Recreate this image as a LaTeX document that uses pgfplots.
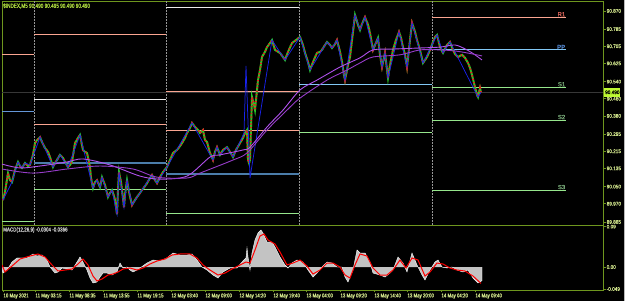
\documentclass[border=0pt]{standalone}
\usepackage{pgfplots}
\pgfplotsset{compat=1.18}
\usepackage{fontspec}
\setmainfont{Liberation Sans}
\newfontfamily\tfont[FakeStretch=0.78,FakeBold=0.6]{Liberation Sans}
\newfontfamily\pfont[FakeStretch=0.9,FakeBold=0.6]{Liberation Sans}
\newfontfamily\lfont[FakeBold=0.6]{Liberation Sans}
\definecolor{frame}{RGB}{110,150,30}
\definecolor{lab}{RGB}{210,230,140}
\definecolor{salm}{RGB}{250,165,145}
\definecolor{stblue}{RGB}{75,125,170}
\definecolor{skyb}{RGB}{130,200,245}
\definecolor{cornb}{RGB}{100,150,215}
\definecolor{lgreen}{RGB}{150,230,140}
\definecolor{whl}{RGB}{235,235,235}
\definecolor{candg}{RGB}{40,200,40}
\definecolor{candr}{RGB}{225,30,30}
\definecolor{zz}{RGB}{25,35,235}
\definecolor{maA}{RGB}{175,80,235}
\definecolor{maB}{RGB}{150,60,200}
\definecolor{hist}{RGB}{195,195,195}
\definecolor{sep}{RGB}{150,150,150}
\definecolor{curp}{RGB}{55,55,55}
\definecolor{boxg}{RGB}{190,250,50}
\definecolor{rlab}{RGB}{220,100,90}
\definecolor{plab}{RGB}{80,130,200}
\definecolor{slab}{RGB}{120,170,120}
\begin{document}
\begin{tikzpicture}
\fill[black] (0,0) rectangle (625bp,301bp);
\fill[gray!55] (623.5bp,0) rectangle (625bp,301bp);
% ---------------- main price panel ----------------
\begin{axis}[
  at={(2bp,76bp)}, anchor=south west, scale only axis,
  width=601bp, height=224bp,
  xmin=2, xmax=603, ymin=89.8707, ymax=90.9163,
  clip=false, scaled y ticks=false,
  axis line style={frame, line width=0.9bp},
  xtick=\empty,
  extra x ticks={34,166,299,432},
  extra x tick labels={},
  extra x tick style={grid=major, major tick length=0pt,
     major grid style={sep, line width=0.6bp, dash pattern=on 1.5bp off 1.5bp}},
  ytick={89.885,89.970,90.050,90.135,90.215,90.295,90.380,90.460,90.540,90.625,90.705,90.785,90.870},
  yticklabels={89.885,89.970,90.050,90.135,90.215,90.295,90.380,90.460,90.540,90.625,90.705,90.785,90.870},
  ytick pos=right, yticklabel pos=right,
  tick align=outside, major tick length=2.5bp,
  tick style={frame, line width=0.6bp},
  yticklabel style={font=\pfont\fontsize{5.2}{6}\selectfont, text=lab, inner sep=1bp},
]
% current price line
\addplot[curp, line width=1.6bp] coordinates {(2,90.490) (603,90.490)};
% pivot levels, day 0
\addplot[salm, line width=0.9bp] coordinates {(2,90.669) (34,90.669)};
\addplot[cornb, line width=0.9bp] coordinates {(2,90.402) (34,90.402)};
\addplot[lgreen, line width=0.9bp] coordinates {(2,89.885) (34,89.885)};
% day 1
\addplot[salm, line width=0.9bp] coordinates {(34,90.762) (166,90.762)};
\addplot[whl, line width=0.9bp] coordinates {(34,90.459) (166,90.459)};
\addplot[salm, line width=0.9bp] coordinates {(34,90.342) (166,90.342)};
\addplot[stblue, line width=1.4bp] coordinates {(34,90.160) (166,90.160)};
\addplot[lgreen, line width=0.9bp] coordinates {(34,90.038) (166,90.038)};
% day 2
\addplot[whl, line width=0.9bp] coordinates {(166,90.884) (299,90.884)};
\addplot[salm, line width=0.9bp] coordinates {(166,90.496) (299,90.496)};
\addplot[salm, line width=0.9bp] coordinates {(166,90.314) (299,90.314)};
\addplot[stblue, line width=1.4bp] coordinates {(166,90.108) (299,90.108)};
\addplot[lgreen, line width=0.9bp] coordinates {(166,89.926) (299,89.926)};
% day 3
\addplot[skyb, line width=0.9bp] coordinates {(299,90.528) (432,90.528)};
\addplot[lgreen, line width=0.9bp] coordinates {(299,90.305) (432,90.305)};
% day 4
\addplot[salm, line width=0.9bp] coordinates {(432,90.841) (566,90.841)};
\addplot[skyb, line width=0.9bp] coordinates {(432,90.688) (566,90.688)};
\addplot[lgreen, line width=0.9bp] coordinates {(432,90.514) (566,90.514)};
\addplot[lgreen, line width=0.9bp] coordinates {(432,90.361) (566,90.361)};
\addplot[lgreen, line width=0.9bp] coordinates {(432,90.034) (566,90.034)};
% price (closes)
\pgfplotsset{pricepath/.style={}}
\addplot[candg, line width=1.9bp] coordinates {
(3,89.987)(5,90.025)(8,90.113)(10,90.080)(12,90.071)(15,90.127)(18,90.165)(20,90.146)(22,90.137)(25,90.160)
(28,90.146)(30,90.151)(33,90.198)(35,90.253)(37,90.267)(40,90.281)(42,90.258)(45,90.230)(48,90.212)(50,90.188)
(53,90.141)(55,90.160)(57,90.174)(60,90.198)(63,90.184)(65,90.165)(68,90.141)(70,90.151)(72,90.165)(75,90.253)
(78,90.277)(80,90.291)(82,90.244)(83,90.221)(85,90.212)(87,90.207)(90,90.141)(91,90.090)(93,90.043)(95,90.071)
(97,90.080)(100,90.047)(102,90.094)(105,90.057)(108,90.001)(110,90.020)(112,90.034)(114,90.006)(115,89.987)(117,89.921)
(118,90.034)(119,90.118)(121,90.071)(122,90.034)(124,89.954)(125,90.011)(127,90.080)(129,90.025)(132,89.964)(135,89.987)
(137,90.001)(140,90.020)(142,90.034)(145,90.052)(147,90.066)(150,90.090)(152,90.104)(155,90.080)(157,90.066)(160,90.094)
(163,90.118)(167,90.141)(170,90.174)(173,90.207)(177,90.221)(180,90.239)(182,90.253)(185,90.277)(187,90.300)(190,90.324)
(192,90.347)(195,90.328)(198,90.314)(200,90.300)(203,90.314)(205,90.267)(207,90.258)(210,90.207)(213,90.174)(215,90.212)
(217,90.234)(220,90.198)(223,90.221)(227,90.234)(230,90.212)(233,90.188)(236,90.221)(240,90.253)(243,90.277)(245,90.300)
(247,90.314)(248,90.174)(249,90.160)(250,90.174)(252,90.468)(254,90.431)(255,90.407)(258,90.547)(260,90.594)(262,90.655)
(265,90.679)(267,90.701)(270,90.720)(272,90.734)(275,90.688)(278,90.679)(280,90.674)(283,90.655)(285,90.641)(288,90.679)
(292,90.720)(296,90.734)(300,90.748)(303,90.711)(305,90.674)(308,90.632)(310,90.594)(313,90.632)(317,90.674)(320,90.679)
(322,90.688)(325,90.711)(327,90.725)(330,90.711)(332,90.697)(335,90.715)(337,90.734)(340,90.679)(342,90.632)(344,90.571)
(345,90.547)(348,90.618)(350,90.655)(352,90.734)(355,90.851)(358,90.805)(360,90.781)(362,90.809)(365,90.841)(368,90.805)
(370,90.767)(373,90.688)(375,90.711)(378,90.744)(380,90.665)(382,90.608)(385,90.674)(388,90.557)(390,90.618)(393,90.688)
(396,90.734)(399,90.772)(401,90.744)(403,90.701)(405,90.665)(407,90.608)(410,90.734)(412,90.814)(415,90.772)(417,90.734)
(420,90.688)(423,90.627)(427,90.655)(430,90.688)(433,90.725)(435,90.748)(437,90.758)(440,90.701)(443,90.674)(447,90.711)
(450,90.725)(453,90.688)(455,90.669)(458,90.655)(462,90.665)(465,90.651)(468,90.627)(470,90.604)(472,90.571)(475,90.514)
(477,90.478)(478,90.468)(480,90.510)(481,90.490)};
\addplot[candr, line width=1.9bp, dash pattern=on 1.3bp off 2.2bp] coordinates {
(3,89.987)(5,90.025)(8,90.113)(10,90.080)(12,90.071)(15,90.127)(18,90.165)(20,90.146)(22,90.137)(25,90.160)
(28,90.146)(30,90.151)(33,90.198)(35,90.253)(37,90.267)(40,90.281)(42,90.258)(45,90.230)(48,90.212)(50,90.188)
(53,90.141)(55,90.160)(57,90.174)(60,90.198)(63,90.184)(65,90.165)(68,90.141)(70,90.151)(72,90.165)(75,90.253)
(78,90.277)(80,90.291)(82,90.244)(83,90.221)(85,90.212)(87,90.207)(90,90.141)(91,90.090)(93,90.043)(95,90.071)
(97,90.080)(100,90.047)(102,90.094)(105,90.057)(108,90.001)(110,90.020)(112,90.034)(114,90.006)(115,89.987)(117,89.921)
(118,90.034)(119,90.118)(121,90.071)(122,90.034)(124,89.954)(125,90.011)(127,90.080)(129,90.025)(132,89.964)(135,89.987)
(137,90.001)(140,90.020)(142,90.034)(145,90.052)(147,90.066)(150,90.090)(152,90.104)(155,90.080)(157,90.066)(160,90.094)
(163,90.118)(167,90.141)(170,90.174)(173,90.207)(177,90.221)(180,90.239)(182,90.253)(185,90.277)(187,90.300)(190,90.324)
(192,90.347)(195,90.328)(198,90.314)(200,90.300)(203,90.314)(205,90.267)(207,90.258)(210,90.207)(213,90.174)(215,90.212)
(217,90.234)(220,90.198)(223,90.221)(227,90.234)(230,90.212)(233,90.188)(236,90.221)(240,90.253)(243,90.277)(245,90.300)
(247,90.314)(248,90.174)(249,90.160)(250,90.174)(252,90.468)(254,90.431)(255,90.407)(258,90.547)(260,90.594)(262,90.655)
(265,90.679)(267,90.701)(270,90.720)(272,90.734)(275,90.688)(278,90.679)(280,90.674)(283,90.655)(285,90.641)(288,90.679)
(292,90.720)(296,90.734)(300,90.748)(303,90.711)(305,90.674)(308,90.632)(310,90.594)(313,90.632)(317,90.674)(320,90.679)
(322,90.688)(325,90.711)(327,90.725)(330,90.711)(332,90.697)(335,90.715)(337,90.734)(340,90.679)(342,90.632)(344,90.571)
(345,90.547)(348,90.618)(350,90.655)(352,90.734)(355,90.851)(358,90.805)(360,90.781)(362,90.809)(365,90.841)(368,90.805)
(370,90.767)(373,90.688)(375,90.711)(378,90.744)(380,90.665)(382,90.608)(385,90.674)(388,90.557)(390,90.618)(393,90.688)
(396,90.734)(399,90.772)(401,90.744)(403,90.701)(405,90.665)(407,90.608)(410,90.734)(412,90.814)(415,90.772)(417,90.734)
(420,90.688)(423,90.627)(427,90.655)(430,90.688)(433,90.725)(435,90.748)(437,90.758)(440,90.701)(443,90.674)(447,90.711)
(450,90.725)(453,90.688)(455,90.669)(458,90.655)(462,90.665)(465,90.651)(468,90.627)(470,90.604)(472,90.571)(475,90.514)
(477,90.478)(478,90.468)(480,90.510)(481,90.490)};
% zigzag
\addplot[zz, line width=0.75bp] coordinates {
(3,89.987)(12,90.071)(18,90.165)(22,90.137)(25,90.160)(30,90.151)(40,90.281)(53,90.141)(60,90.198)(68,90.141)
(80,90.291)(93,90.043)(97,90.080)(100,90.047)(102,90.094)(108,90.001)(112,90.034)(117,89.921)(119,90.118)(124,89.954)
(127,90.080)(132,89.964)(152,90.104)(157,90.066)(167,90.141)(192,90.347)(213,90.174)(217,90.234)(220,90.198)(227,90.234)
(233,90.188)(244,90.300)(246,90.613)(250,90.090)(272,90.734)(285,90.641)(300,90.748)(310,90.594)(327,90.725)(332,90.697)
(337,90.734)(345,90.547)(355,90.851)(360,90.781)(365,90.841)(373,90.688)(378,90.744)(382,90.608)(385,90.674)(388,90.557)
(399,90.772)(407,90.608)(412,90.814)(423,90.627)(437,90.758)(443,90.674)(450,90.725)(478,90.468)(481,90.490)};
% moving averages
\addplot[maA, line width=0.9bp, smooth] coordinates {
(2,90.155)(20,90.137)(40,90.146)(67,90.165)(83,90.179)(110,90.151)(140,90.099)(160,90.085)(187,90.099)(210,90.188)
(220,90.198)(243,90.221)(250,90.234)(267,90.328)(283,90.407)(300,90.501)(317,90.547)(340,90.608)(360,90.651)(373,90.688)
(393,90.692)(420,90.697)(440,90.701)(455,90.711)(467,90.688)(475,90.665)(482,90.641)};
\addplot[maB, line width=0.9bp, smooth] coordinates {
(2,90.132)(33,90.113)(67,90.132)(100,90.146)(133,90.132)(157,90.094)(187,90.090)(200,90.113)(233,90.174)(247,90.207)
(267,90.314)(287,90.407)(300,90.463)(327,90.547)(347,90.594)(360,90.627)(373,90.655)(400,90.665)(420,90.688)(440,90.688)
(455,90.683)(467,90.674)(482,90.660)};
% pivot labels
\node[anchor=south east, text=rlab, font=\lfont\fontsize{6}{6}\selectfont, inner sep=0.6bp] at (axis cs:566,90.841) {R1};
\node[anchor=south east, text=plab, font=\lfont\fontsize{6}{6}\selectfont, inner sep=0.6bp] at (axis cs:566,90.688) {PP};
\node[anchor=south east, text=slab, font=\lfont\fontsize{6}{6}\selectfont, inner sep=0.6bp] at (axis cs:566,90.514) {S1};
\node[anchor=south east, text=slab, font=\lfont\fontsize{6}{6}\selectfont, inner sep=0.6bp] at (axis cs:566,90.361) {S2};
\node[anchor=south east, text=slab, font=\lfont\fontsize{6}{6}\selectfont, inner sep=0.6bp] at (axis cs:566,90.034) {S3};
% current price box
\node[anchor=west, fill=boxg, text=black, font=\pfont\fontsize{5.2}{6}\selectfont, inner sep=1bp, minimum height=9bp] at (axis cs:604,90.490) {90.490};
\end{axis}
% ---------------- MACD panel ----------------
\begin{axis}[
  at={(2bp,11bp)}, anchor=south west, scale only axis,
  width=601bp, height=65bp,
  xmin=2, xmax=603, ymin=-0.0512, ymax=0.0936,
  scaled y ticks=false,
  axis line style={frame, line width=0.9bp},
  xtick={3,35,69,103,137,171,205,239,273,306,340,374,407,441,475},
  xticklabels={10 May 2021,11 May 03:15,11 May 08:35,11 May 13:55,11 May 19:15,12 May 03:40,12 May 09:00,12 May 14:20,12 May 19:40,13 May 04:00,13 May 09:20,13 May 14:40,13 May 20:00,14 May 04:20,14 May 09:40},
  xtick pos=left, xticklabel pos=left,
  ytick={-0.049,0,0.09},
  yticklabels={-0.049,0.00,0.09},
  ytick pos=right, yticklabel pos=right,
  tick align=outside, major tick length=2.5bp,
  tick style={frame, line width=0.6bp},
  xticklabel style={font=\tfont\fontsize{5.6}{6}\selectfont, text=lab, anchor=north west, inner sep=0.8bp, xshift=-0.5bp},
  yticklabel style={font=\pfont\fontsize{5.2}{6}\selectfont, text=lab, inner sep=1bp},
]
\addplot[fill=hist, draw=white, line width=0.4bp] coordinates {
(2,0)(2,-0.0067)(3,-0.0134)(7,-0.0067)(12,0.0111)(17,0.0201)(22,0.0201)(27,0.0201)(33,0.0290)(37,0.0245)
(42,0.0267)(47,0.0156)(50,0)(55,-0.0134)(58,-0.0111)(62,-0.0022)(67,-0.0045)(72,-0.0067)(77,0.0111)(80,0.0223)
(83,0.0111)(87,-0.0067)(90,-0.0245)(93,-0.0356)(97,-0.0334)(100,-0.0223)(103,-0.0134)(107,-0.0134)(112,-0.0178)(117,-0.0111)
(120,0.0089)(123,-0.0022)(127,0)(130,-0.0067)(133,-0.0111)(137,-0.0067)(140,-0.0022)(147,0.0089)(153,0.0156)(160,0.0134)
(167,0.0201)(173,0.0312)(180,0.0267)(187,0.0267)(192,0.0290)(197,0.0156)(202,0)(207,-0.0067)(213,-0.0178)(218,-0.0245)
(223,-0.0111)(230,-0.0022)(237,-0.0022)(242,0.0111)(246,0.0201)(247,0.0423)(248,0.0223)(250,-0.0067)(252,0.0312)(255,0.0602)
(258,0.0758)(261,0.0824)(263,0.0758)(267,0.0557)(272,0.0557)(275,0.0446)(280,0.0223)(285,0.0045)(288,-0.0022)(292,0.0089)
(297,0.0156)(303,0.0111)(308,-0.0067)(313,-0.0223)(317,-0.0134)(322,0)(327,0.0111)(332,0.0089)(337,0)(342,0)
(345,-0.0223)(348,-0.0334)(353,-0.0067)(357,0.0379)(360,0.0312)(365,0.0312)(370,0.0111)(373,-0.0134)(380,-0.0178)(385,-0.0223)
(390,-0.0134)(393,-0.0067)(398,0.0223)(403,0.0089)(407,-0.0111)(412,0.0312)(417,0.0045)(422,-0.0178)(425,-0.0290)(430,-0.0067)
(435,0.0111)(438,0.0156)(442,0)(447,-0.0022)(452,0)(457,-0.0067)(463,-0.0111)(468,-0.0067)(473,-0.0245)(478,-0.0356)
(482,-0.0304)(482,0)};
\addplot[red, line width=1bp] coordinates {
(2,0.0045)(5,-0.0111)(12,0.0022)(20,0.0178)(30,0.0245)(38,0.0290)(45,0.0223)(52,0.0045)(58,-0.0089)(65,-0.0067)
(72,-0.0045)(78,0.0067)(83,0.0178)(88,0.0045)(93,-0.0201)(97,-0.0312)(102,-0.0267)(108,-0.0178)(113,-0.0156)(118,-0.0111)
(123,-0.0045)(130,-0.0022)(137,-0.0067)(143,-0.0022)(150,0.0067)(157,0.0134)(165,0.0178)(172,0.0267)(180,0.0290)(190,0.0290)
(197,0.0201)(203,0.0045)(210,-0.0067)(218,-0.0178)(225,-0.0134)(232,-0.0045)(240,0.0045)(246,0.0111)(250,0.0089)(255,0.0379)
(260,0.0691)(264,0.0735)(268,0.0602)(275,0.0512)(280,0.0334)(287,0.0045)(293,0.0089)(300,0.0156)(307,0.0022)(313,-0.0156)
(320,-0.0067)(327,0.0089)(333,0.0089)(340,0)(345,-0.0178)(350,-0.0245)(355,0.0045)(360,0.0290)(367,0.0245)(373,-0.0022)
(380,-0.0178)(387,-0.0178)(393,-0.0067)(400,0.0156)(406,-0.0022)(412,0.0201)(418,0.0156)(425,-0.0201)(430,-0.0111)(437,0.0089)
(443,0.0067)(450,-0.0022)(457,-0.0067)(465,-0.0089)(473,-0.0201)(481,-0.0366)};
\end{axis}
% titles
\node[anchor=west, text={rgb,255:red,170;green,215;blue,60}, font=\tfont\fontsize{6}{6}\selectfont, inner sep=0pt] at (3bp,295bp) {\$INDEX,M5 90.490 90.495 90.490 90.490};
\node[anchor=west, text={rgb,255:red,205;green,205;blue,205}, font=\tfont\fontsize{5.8}{6}\selectfont, inner sep=0pt] at (3bp,71bp) {MACD(12,26,9) -0.0304 -0.0366};
\pgfresetboundingbox
\useasboundingbox (0,0) rectangle (625bp,301bp);
\end{tikzpicture}
\end{document}
